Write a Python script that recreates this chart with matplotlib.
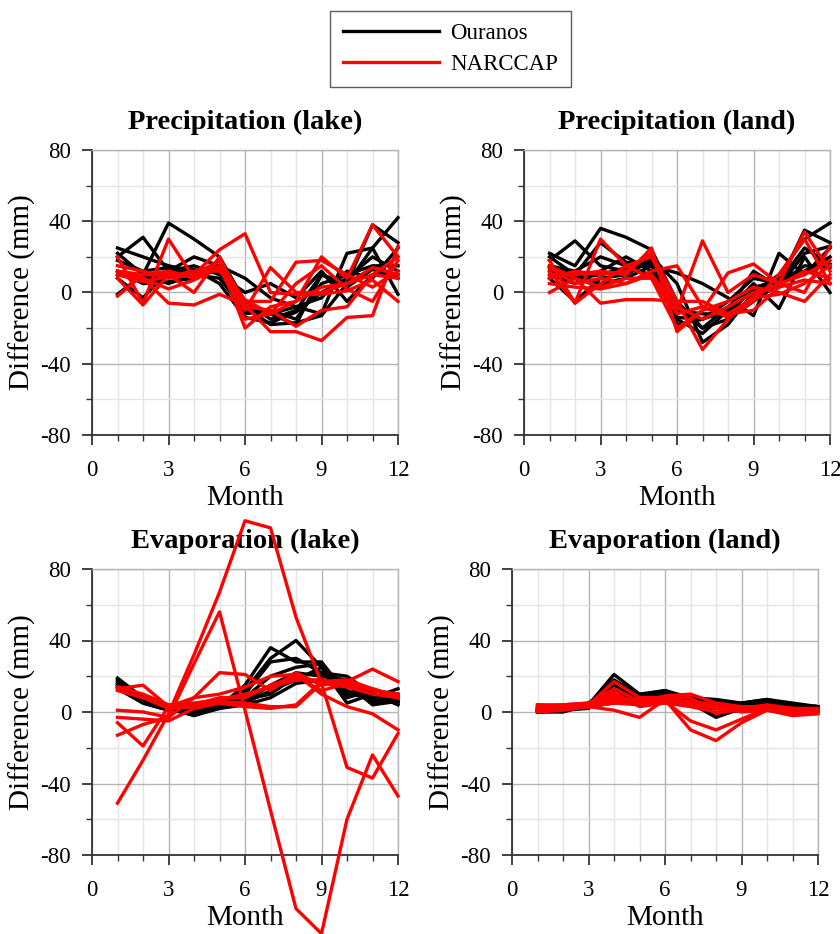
import matplotlib
matplotlib.use("Agg")
import matplotlib.pyplot as plt
from matplotlib.ticker import MultipleLocator
from matplotlib.lines import Line2D

plt.rcParams['font.family'] = ['Liberation Serif', 'DejaVu Serif']

months = [1, 2, 3, 4, 5, 6, 7, 8, 9, 10, 11, 12]
series_names = ["Ouranos", "NARCCAP"]
panel_titles = ["Precipitation (lake)", "Precipitation (land)",
                "Evaporation (lake)", "Evaporation (land)"]
x_ticks = [0, 3, 6, 9, 12]
y_ticks = [-80, -40, 0, 40, 80]

precip_lake_ouranos = [
    [22, 10, 39, 30, 20, -5, -15, -10, 10, 5, 38, 28],
    [25, 20, 15, 12, 15, 8, -3, -8, -12, 22, 25, -1],
    [20, 31, 12, 20, 15, -8, -18, -17, -13, 5, 25, 42],
    [-1, 10, 5, 10, 12, -12, -10, -15, 5, 10, 15, 15],
    [8, -3, 12, 15, 10, 0, 5, -3, 12, -5, 10, 10],
    [10, 8, 10, 13, 5, -14, -17, -11, 0, 8, 20, 12],
    [18, 12, 14, 10, 8, -10, -12, -8, -3, 12, 8, 25],
    [12, 5, 6, 8, 14, -9, -12, -18, 10, 3, 13, 8],
]
precip_lake_narccap = [
    [20, -6, 30, 8, 18, -20, -8, -5, 20, 8, 38, 20],
    [12, 10, 10, 10, 24, 33, 0, -1, -1, 1, 7, -5],
    [10, 8, -6, -7, -1, -7, -22, -22, -27, -14, -13, 26],
    [-2, 10, 12, 8, 15, -10, 14, 0, 0, 5, 10, 8],
    [15, 12, 8, 10, 18, -5, -5, 17, 18, 10, 3, 12],
    [8, -7, 10, 0, 20, -8, -10, -19, -10, -8, 10, 20],
    [12, 8, 2, 7, 14, -15, -12, -5, 3, 5, 14, 10],
    [10, 6, 9, 12, 12, -4, -12, 5, 15, 2, -5, 18],
]
precip_land_ouranos = [
    [22, 15, 36, 31, 24, -5, -20, -15, -5, 5, 35, 28],
    [18, 29, 15, 12, 20, 5, -28, -18, 0, 10, 30, 39],
    [20, 10, 28, 17, 15, 11, 5, -3, -13, 22, 10, 25],
    [10, 5, 12, 20, 12, -15, -23, -10, 5, -9, 20, 0],
    [15, 12, 20, 15, 17, -14, -15, -10, 12, 3, 22, 26],
    [8, -5, 8, 10, 18, -18, -15, -5, 8, 5, 15, 14],
    [12, 8, 10, 14, 10, -10, -12, -12, 2, 8, 12, 20],
    [14, 10, 5, 8, 15, -8, -20, -8, 3, 6, 25, 16],
]
precip_land_narccap = [
    [18, -6, 30, 15, 20, -10, 29, 0, 10, 5, 34, 12],
    [10, 10, 12, 10, 25, -22, -10, 11, 16, 5, 0, 26],
    [0, 8, -6, -4, -4, -5, -32, -15, -2, 5, 10, 18],
    [14, 5, 8, 5, 12, 15, -8, -12, -10, 3, 7, 5],
    [12, -6, 5, 15, 8, -20, -10, -5, 3, 0, -5, 10],
    [8, 12, 10, 12, 22, -5, -5, -12, -3, -1, 5, 15],
    [5, 3, 2, 5, 10, -8, -15, -8, 0, 4, 12, 8],
    [15, 8, 3, 8, 8, -12, -8, -14, -5, 10, 30, 5],
]
evap_lake_ouranos = [
    [19, 8, 2, -2, 3, 15, 36, 28, 28, 10, 8, 13],
    [17, 7, 1, -1, 4, 12, 30, 40, 25, 15, 5, 8],
    [15, 6, 2, 0, 5, 10, 28, 30, 22, 20, 10, 5],
    [14, 5, 1, 1, 3, 8, 20, 25, 27, 8, 12, 10],
    [16, 7, 3, -1, 2, 6, 15, 22, 20, 18, 7, 6],
    [18, 8, 2, 0, 3, 5, 12, 18, 25, 5, 10, 4],
    [13, 5, 1, 1, 4, 7, 10, 20, 22, 12, 6, 8],
    [15, 6, 3, -2, 2, 4, 8, 16, 18, 16, 4, 6],
]
evap_lake_narccap = [
    [-51, -27, -1, 32, 67, 107, 103, 53, 16, -31, -37, -12],
    [-13, -7, -3, 27, 56, 1, -55, -110, -124, -60, -24, -47],
    [13, 15, 3, 8, 22, 21, 12, 22, 15, 17, 24, 17],
    [1, 0, -3, 8, 10, 14, 20, 21, 10, 3, -1, -10],
    [-3, -4, -5, 2, 5, 3, 2, 4, 17, 18, 13, 8],
    [-6, -19, 3, 4, 8, 8, 15, 20, 12, 16, 12, 10],
    [12, 8, 2, 3, 6, 5, 3, 3, 16, 14, 10, 8],
    [14, 10, 4, 5, 7, 10, 14, 18, 18, 15, 13, 9],
]
evap_land_ouranos = [
    [1, 2, 4, 21, 10, 12, 8, 7, 5, 7, 5, 3],
    [0, 1, 3, 18, 9, 11, 7, 6, 4, 6, 4, 2],
    [2, 2, 5, 15, 8, 10, 6, 5, 3, 5, 4, 3],
    [1, 1, 3, 12, 10, 9, 5, -3, 2, 6, 3, 2],
    [0, 0, 4, 8, 6, 8, 4, -1, 1, 4, 3, 2],
    [1, 1, 3, 5, 7, 7, 5, 2, 3, 5, 3, 2],
    [2, 2, 4, 10, 8, 10, 6, 4, 4, 6, 4, 3],
    [0, 1, 2, 16, 9, 12, 7, 5, 5, 7, 4, 3],
]
evap_land_narccap = [
    [3, 3, 4, 17, 8, 8, 8, -1, 2, 3, 2, 1],
    [4, 4, 5, 13, 6, 9, 10, 5, 3, 3, 0, 0],
    [2, 3, 3, 1, -3, 7, -10, -16, -6, 1, 1, 0],
    [1, 2, 4, 6, 4, 6, -5, -10, -4, 2, 0, 0],
    [3, 4, 5, 9, 5, 8, 5, 2, 1, 2, 1, 1],
    [0, 1, 3, 5, 4, 5, 3, 0, 1, 2, -1, 1],
    [4, 3, 4, 7, 7, 6, 6, 4, 2, 4, 2, 2],
    [2, 2, 3, 11, 3, 5, 4, 3, 0, 1, -2, -1],
]

panel_data = [
    (precip_lake_ouranos, precip_lake_narccap),
    (precip_land_ouranos, precip_land_narccap),
    (evap_lake_ouranos, evap_lake_narccap),
    (evap_land_ouranos, evap_land_narccap),
]

W, H = 840, 934
fig = plt.figure(figsize=(W / 100, H / 100), dpi=100)

# pixel boxes: (left, top, right, bottom)
boxes = [(92, 150, 398, 435), (524, 150, 830, 435),
         (92, 569, 398, 855), (512, 569, 818, 855)]

colors = ["#000000", "#ff0000"]
lw = 2.4

for (l, t, r, b), title, (ser_o, ser_n) in zip(boxes, panel_titles, panel_data):
    ax = fig.add_axes([l / W, 1 - b / H, (r - l) / W, (b - t) / H])
    ax.set_xlim(0, 12)
    ax.set_ylim(-80, 80)
    ax.xaxis.set_major_locator(MultipleLocator(3))
    ax.xaxis.set_minor_locator(MultipleLocator(1))
    ax.yaxis.set_major_locator(MultipleLocator(40))
    ax.yaxis.set_minor_locator(MultipleLocator(20))
    ax.set_xticks(x_ticks)
    ax.set_yticks(y_ticks)
    ax.grid(which='major', color='#b4b4b4', linewidth=1.0, zorder=0)
    ax.grid(which='minor', color='#e4e4e4', linewidth=1.0, zorder=0)
    ax.set_axisbelow(True)
    for s in ['top', 'right']:
        ax.spines[s].set_color('#b4b4b4')
        ax.spines[s].set_linewidth(1.0)
    for s in ['left', 'bottom']:
        ax.spines[s].set_color('#333333')
        ax.spines[s].set_linewidth(1.3)
    ax.tick_params(which='major', direction='out', length=7, width=1.3,
                   color='#333333', labelsize=16.5)
    ax.tick_params(which='minor', direction='out', length=4, width=1.0,
                   color='#333333')
    ax.tick_params(axis='x', which='major', pad=11)
    ax.tick_params(axis='y', which='major', pad=8)
    ax.set_yticklabels([str(v) for v in y_ticks])
    for ys in ser_o:
        ax.plot(months, ys, color=colors[0], lw=lw, clip_on=False, zorder=3)
    for ys in ser_n:
        ax.plot(months, ys, color=colors[1], lw=lw, clip_on=False, zorder=4)
    ax.set_title(title, fontsize=20.5, fontweight='bold', pad=15)
    ax.set_xlabel("Month", fontsize=21, labelpad=3)
    ax.set_ylabel("Difference (mm)", fontsize=21, labelpad=3)

handles = [Line2D([], [], color=colors[0], lw=2.4),
           Line2D([], [], color=colors[1], lw=2.4)]
leg = fig.legend(handles, series_names, loc='center',
                 bbox_to_anchor=(450.5 / W, 1 - 49 / H),
                 fontsize=16.5, handlelength=4.2, handletextpad=0.5,
                 frameon=True, fancybox=False, edgecolor='#333333',
                 borderpad=0.55, labelspacing=0.42, borderaxespad=0)
leg.get_frame().set_linewidth(1.0)

fig.savefig("out.png", dpi=100)
